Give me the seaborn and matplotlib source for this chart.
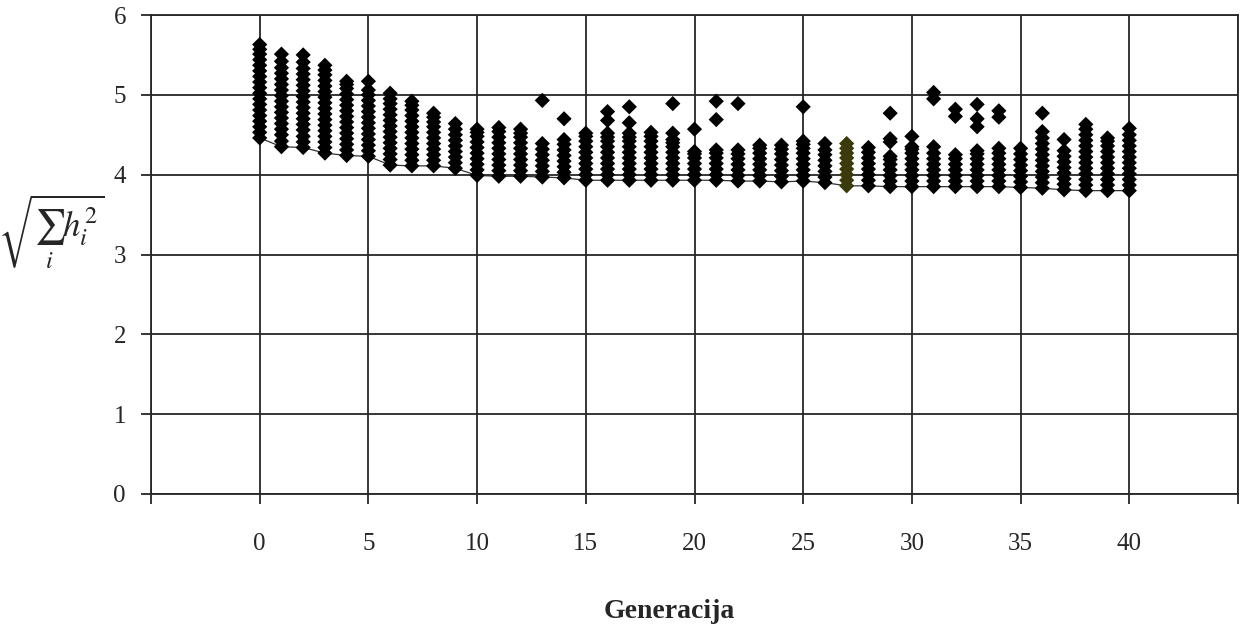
import pandas as pd
import matplotlib.pyplot as plt
import seaborn as sns

# Fitness values of the population in each generation
g00 = [4.46, 4.53, 4.60, 4.67, 4.74, 4.81, 4.88, 4.95, 5.02, 5.09, 5.16, 5.23, 5.30, 5.37, 5.44, 5.51, 5.57, 5.63]
g01 = [4.35, 4.42, 4.50, 4.57, 4.64, 4.71, 4.78, 4.85, 4.92, 4.99, 5.06, 5.13, 5.20, 5.27, 5.34, 5.42, 5.51]
g02 = [4.34, 4.41, 4.48, 4.56, 4.63, 4.70, 4.77, 4.84, 4.91, 4.98, 5.05, 5.12, 5.19, 5.26, 5.33, 5.41, 5.50]
g03 = [4.27, 4.34, 4.41, 4.48, 4.55, 4.62, 4.69, 4.76, 4.83, 4.90, 4.97, 5.04, 5.11, 5.18, 5.25, 5.31, 5.37]
g04 = [4.24, 4.31, 4.38, 4.45, 4.52, 4.59, 4.66, 4.73, 4.80, 4.87, 4.94, 5.01, 5.08, 5.13, 5.17]
g05 = [4.23, 4.30, 4.37, 4.44, 4.51, 4.58, 4.65, 4.72, 4.79, 4.86, 4.93, 5.00, 5.06, 5.17]
g06 = [4.12, 4.19, 4.26, 4.33, 4.40, 4.47, 4.54, 4.61, 4.68, 4.75, 4.82, 4.89, 4.95, 5.02]
g07 = [4.11, 4.18, 4.25, 4.32, 4.39, 4.46, 4.53, 4.60, 4.67, 4.74, 4.81, 4.87, 4.92]
g08 = [4.11, 4.18, 4.25, 4.32, 4.39, 4.46, 4.53, 4.60, 4.66, 4.72, 4.77]
g09 = [4.08, 4.15, 4.22, 4.29, 4.36, 4.43, 4.50, 4.57, 4.64]
g10 = [3.99, 4.06, 4.13, 4.20, 4.27, 4.34, 4.41, 4.48, 4.53, 4.57]
g11 = [3.98, 4.05, 4.12, 4.19, 4.26, 4.33, 4.40, 4.47, 4.54, 4.59]
g12 = [3.98, 4.05, 4.12, 4.19, 4.26, 4.33, 4.40, 4.47, 4.52, 4.57]
g13 = [3.97, 4.04, 4.11, 4.18, 4.25, 4.32, 4.39, 4.93]
g14 = [3.96, 4.03, 4.10, 4.17, 4.24, 4.31, 4.38, 4.44, 4.70]
g15 = [3.93, 4.00, 4.07, 4.14, 4.21, 4.28, 4.35, 4.42, 4.48, 4.52]
g16 = [3.93, 4.00, 4.07, 4.14, 4.21, 4.28, 4.35, 4.42, 4.47, 4.52, 4.68, 4.79]
g17 = [3.93, 4.00, 4.07, 4.14, 4.21, 4.28, 4.35, 4.42, 4.47, 4.52, 4.65, 4.85]
g18 = [3.93, 4.00, 4.07, 4.14, 4.21, 4.28, 4.35, 4.42, 4.48, 4.53]
g19 = [3.93, 4.00, 4.07, 4.14, 4.21, 4.28, 4.35, 4.40, 4.44, 4.52, 4.89]
g20 = [3.93, 4.00, 4.07, 4.14, 4.21, 4.26, 4.29, 4.57]
g21 = [3.93, 4.00, 4.07, 4.14, 4.21, 4.27, 4.31, 4.69, 4.92]
g22 = [3.92, 3.99, 4.06, 4.13, 4.20, 4.26, 4.31, 4.89]
g23 = [3.92, 3.99, 4.06, 4.13, 4.20, 4.27, 4.33, 4.37]
g24 = [3.91, 3.98, 4.05, 4.12, 4.19, 4.26, 4.32, 4.37]
g25 = [3.92, 3.99, 4.06, 4.13, 4.20, 4.27, 4.33, 4.38, 4.42, 4.85]
g26 = [3.90, 3.97, 4.04, 4.11, 4.18, 4.25, 4.31, 4.39]
g27 = [3.86, 3.93, 4.00, 4.07, 4.14, 4.21, 4.27, 4.33, 4.39]
g28 = [3.86, 3.93, 4.00, 4.07, 4.14, 4.21, 4.28, 4.34]
g29 = [3.85, 3.92, 3.99, 4.06, 4.13, 4.19, 4.23, 4.41, 4.45, 4.77]
g30 = [3.85, 3.92, 3.99, 4.06, 4.13, 4.20, 4.27, 4.32, 4.35, 4.48]
g31 = [3.85, 3.92, 3.99, 4.06, 4.13, 4.20, 4.27, 4.35, 4.95, 5.03]
g32 = [3.85, 3.92, 3.99, 4.06, 4.13, 4.20, 4.25, 4.73, 4.82]
g33 = [3.85, 3.92, 3.99, 4.06, 4.13, 4.20, 4.26, 4.30, 4.60, 4.70, 4.88]
g34 = [3.85, 3.92, 3.99, 4.06, 4.13, 4.20, 4.27, 4.33, 4.72, 4.80]
g35 = [3.84, 3.91, 3.98, 4.05, 4.12, 4.19, 4.26, 4.33]
g36 = [3.83, 3.90, 3.97, 4.04, 4.11, 4.18, 4.25, 4.32, 4.39, 4.46, 4.54, 4.77]
g37 = [3.81, 3.88, 3.95, 4.02, 4.09, 4.16, 4.23, 4.30, 4.44]
g38 = [3.80, 3.87, 3.94, 4.01, 4.08, 4.15, 4.22, 4.29, 4.36, 4.43, 4.50, 4.57, 4.63]
g39 = [3.80, 3.87, 3.94, 4.01, 4.08, 4.15, 4.22, 4.29, 4.36, 4.42, 4.46]
g40 = [3.80, 3.87, 3.94, 4.01, 4.08, 4.15, 4.22, 4.29, 4.36, 4.43, 4.50, 4.58]

generations = [g00, g01, g02, g03, g04, g05, g06, g07, g08, g09,
               g10, g11, g12, g13, g14, g15, g16, g17, g18, g19,
               g20, g21, g22, g23, g24, g25, g26, g27, g28, g29,
               g30, g31, g32, g33, g34, g35, g36, g37, g38, g39, g40]
highlight_gen = 27

x_ticks = [-5, 0, 5, 10, 15, 20, 25, 30, 35, 40, 45]
x_tick_labels = ["", "0", "5", "10", "15", "20", "25", "30", "35", "40", ""]
y_ticks = [0, 1, 2, 3, 4, 5, 6]

# long format for seaborn
rows = []
for gen, vals in enumerate(generations):
    for v in vals:
        rows.append({"Generacija": gen, "fit": v,
                     "grp": "hl" if gen == highlight_gen else "norm"})
points = pd.DataFrame(rows)
best = points.groupby("Generacija")["fit"].min().reset_index()

sns.set_style("white")
plt.rcParams["font.family"] = ["Liberation Serif", "DejaVu Serif"]
plt.rcParams["mathtext.fontset"] = "stix"

fig = plt.figure(figsize=(12.4, 6.3), dpi=100)
ax = fig.add_axes([151 / 1240, 1 - 494 / 630, 1087 / 1240, 479 / 630])

ax.set_xlim(-5, 45)
ax.set_ylim(0, 6)
ax.set_xticks(x_ticks)
ax.set_xticklabels(x_tick_labels)
ax.set_yticks(y_ticks)
ax.grid(True, color="#262626", linewidth=1.3)
ax.set_axisbelow(True)
for s in ax.spines.values():
    s.set_color("#262626")
    s.set_linewidth(1.3)

sns.lineplot(data=best, x="Generacija", y="fit", color="#333333",
             linewidth=0.9, ax=ax, zorder=2)
sns.scatterplot(data=points, x="Generacija", y="fit", hue="grp",
                palette={"norm": "black", "hl": "#3b3a0c"}, marker="D",
                s=60, linewidth=0, legend=False, ax=ax, zorder=3)

ax.tick_params(axis="both", direction="out", length=7, width=1.3,
               color="#262626", labelsize=18)
ax.tick_params(axis="x", pad=21)
ax.tick_params(axis="y", pad=11)
ax.tick_params(bottom=True, left=True)

ax.set_xlabel("Generacija", fontsize=20, fontweight="bold")
ax.xaxis.set_label_coords(0.4766, -0.219)
ax.set_ylabel(r"$\sqrt{\sum_i h_i^2}$", fontsize=25, rotation=0,
              ha="center", va="center")
ax.yaxis.set_label_coords(-0.092, 0.547)

plt.savefig("out.png", dpi=100)
